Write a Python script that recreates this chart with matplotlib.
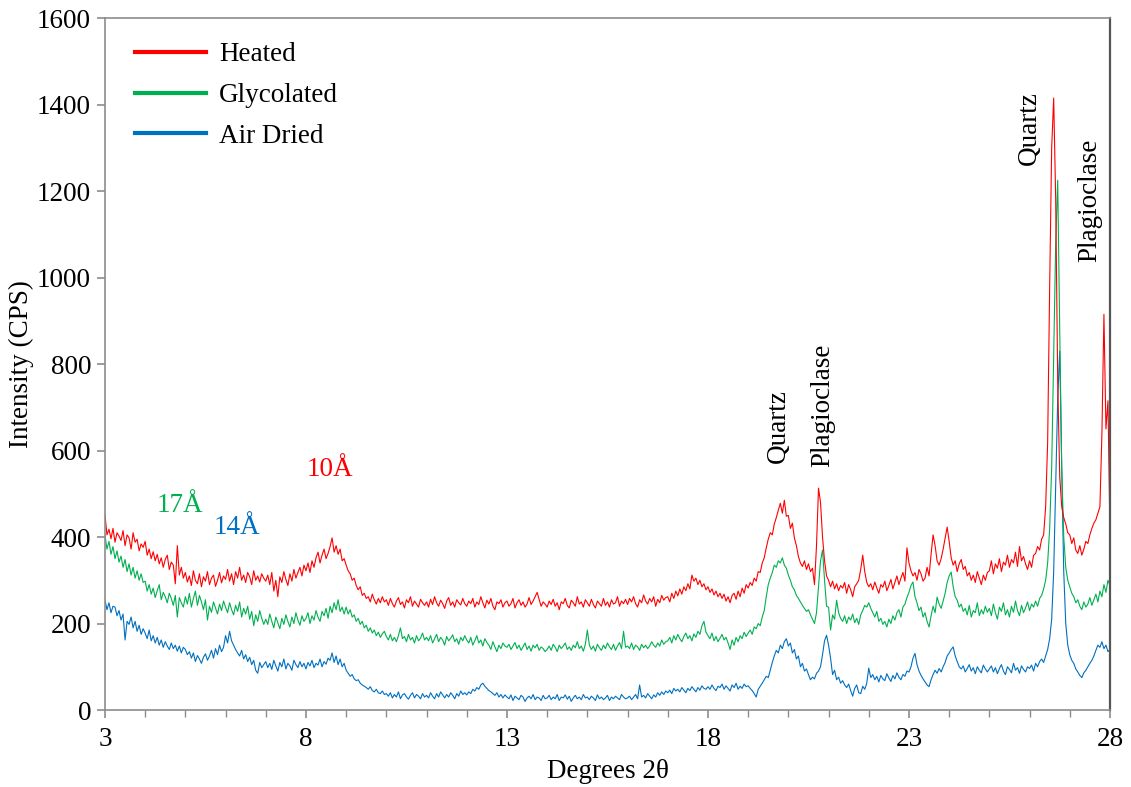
import numpy as np
import matplotlib
matplotlib.use("Agg")
import matplotlib.pyplot as plt
from matplotlib.ticker import MultipleLocator

# 2-theta scan grid (degrees), 0.05 step
two_theta_start, two_theta_stop, two_theta_step = 3.0, 28.0, 0.05

# intensities (CPS), one line per degree of 2-theta
heated_cps = [
    452, 405, 418, 396, 420, 388, 410, 402, 392, 415, 380, 405, 398, 372, 410, 388, 395, 368, 384, 376,
    390, 358, 372, 350, 366, 345, 360, 338, 352, 330, 348, 358, 325, 342, 335, 292, 380, 312, 330, 305,
    318, 296, 310, 288, 322, 300, 292, 315, 285, 308, 298, 320, 290, 305, 312, 286, 300, 318, 294, 310,
    302, 325, 298, 315, 290, 320, 305, 330, 300, 312, 295, 318, 308, 290, 322, 300, 310, 296, 315, 305,
    298, 312, 290, 318, 275, 300, 262, 308, 295, 320, 302, 288, 315, 298, 325, 305, 318, 330, 310, 335,
    322, 340, 318, 345, 330, 352, 365, 340, 358, 372, 350, 362, 378, 398, 365, 380, 360, 372, 345, 350,
    335, 322, 315, 300, 305, 288, 278, 285, 265, 270, 258, 262, 250, 268, 255, 245, 258, 248, 262, 250,
    255, 242, 258, 246, 238, 252, 260, 244, 250, 236, 255, 248, 262, 240, 252, 245, 238, 256, 248, 242,
    250, 238, 256, 244, 262, 248, 240, 254, 246, 235, 252, 260, 242, 250, 238, 255, 248, 243, 258, 246,
    240, 252, 246, 258, 238, 250, 244, 262, 248, 236, 254, 245, 258, 240, 232, 250, 246, 255, 238, 248,
    252, 240, 246, 258, 236, 248, 255, 242, 250, 238, 245, 260, 244, 252, 262, 272, 256, 240, 250, 245,
    238, 252, 244, 256, 240, 248, 232, 250, 246, 258, 242, 236, 254, 248, 240, 262, 245, 250, 238, 255,
    248, 240, 256, 244, 236, 252, 246, 240, 258, 242, 250, 238, 255, 245, 248, 262, 240, 252, 246, 256,
    244, 258, 250, 262, 246, 238, 255, 248, 266, 252, 245, 258, 250, 262, 240, 256, 248, 265, 254, 260,
    262, 250, 270, 258, 275, 264, 280, 268, 285, 276, 292, 280, 312, 298, 305, 290, 300, 285, 292, 278,
    285, 272, 280, 266, 275, 262, 270, 258, 268, 252, 262, 248, 265, 270, 256, 275, 262, 282, 270, 290,
    282, 295, 288, 305, 298, 320, 318, 340, 352, 375, 395, 410, 405, 430, 445, 462, 478, 455, 485, 448,
    450, 420, 432, 398, 380, 355, 340, 332, 345, 325, 338, 320, 328, 290, 380, 513, 480, 400, 345, 310,
    300, 285, 298, 280, 292, 276, 288, 282, 295, 270, 290, 278, 262, 285, 292, 300, 325, 358, 320, 295,
    285, 292, 278, 296, 282, 270, 290, 284, 298, 276, 288, 302, 280, 295, 310, 290, 305, 318, 298, 375,
    340, 322, 310, 318, 300, 325, 315, 298, 305, 330, 310, 360, 405, 380, 345, 335, 350, 372, 398, 423,
    390, 352, 335, 345, 320, 338, 348, 325, 332, 310, 318, 300, 312, 295, 320, 305, 290, 312, 300, 318,
    322, 345, 315, 338, 328, 350, 320, 342, 335, 358, 330, 348, 340, 365, 332, 378, 345, 355, 338, 325,
    345, 330, 358, 362, 378, 370, 395, 405, 470, 620, 980, 1300, 1415, 1180, 760, 540, 470, 445, 430, 410,
    405, 385, 398, 370, 362, 380, 358, 372, 390, 385, 405, 420, 432, 440, 455, 470, 640, 915, 650, 715,
    410,
]

glycolated_cps = [
    405, 372, 390, 360, 378, 350, 368, 342, 356, 330, 348, 320, 338, 312, 330, 305, 322, 300, 315, 295,
    298, 275, 290, 268, 282, 260, 276, 290, 255, 272, 262, 248, 270, 258, 242, 265, 215, 260, 248, 238,
    262, 245, 270, 238, 258, 275, 242, 265, 250, 232, 255, 208, 240, 226, 250, 236, 222, 245, 230, 252,
    238, 225, 248, 232, 220, 242, 228, 250, 215, 235, 222, 240, 210, 228, 195, 220, 205, 230, 212, 198,
    210, 198, 222, 205, 190, 215, 202, 188, 212, 198, 220, 205, 192, 215, 200, 225, 208, 196, 218, 205,
    212, 225, 200, 218, 208, 230, 215, 205, 228, 218, 235, 212, 240, 225, 248, 232, 255, 228, 238, 222,
    238, 222, 232, 215, 220, 205, 212, 198, 205, 190, 196, 182, 190, 178, 185, 172, 180, 168, 176, 182,
    170, 162, 175, 160, 168, 158, 172, 190, 165, 170, 158, 175, 162, 168, 155, 172, 160, 166, 178, 162,
    168, 160, 172, 155, 165, 175, 158, 168, 162, 150, 170, 160, 166, 174, 158, 165, 152, 168, 160, 172,
    162, 155, 168, 150, 160, 172, 155, 162, 148, 165, 156, 150, 140, 158, 146, 135, 150, 142, 155, 148,
    145, 152, 140, 148, 156, 142, 150, 138, 146, 155, 140, 148, 136, 150, 144, 152, 138, 146, 142, 135,
    140, 148, 138, 152, 145, 135, 150, 142, 148, 155, 140, 146, 138, 150, 144, 158, 142, 148, 136, 152,
    185, 150, 140, 148, 136, 152, 144, 138, 150, 142, 155, 146, 140, 152, 138, 148, 156, 142, 182, 145,
    148, 142, 155, 140, 150, 146, 138, 152, 144, 150, 142, 148, 158, 150, 145, 155, 148, 162, 152, 158,
    160, 168, 155, 172, 162, 175, 165, 158, 170, 178, 165, 172, 160, 176, 168, 182, 175, 195, 205, 180,
    172, 165, 178, 160, 170, 158, 166, 175, 162, 168, 155, 140, 162, 150, 168, 158, 172, 165, 180, 170,
    178, 185, 175, 192, 188, 200, 195, 215, 230, 262, 290, 305, 318, 335, 330, 345, 340, 352, 335, 328,
    312, 300, 285, 278, 265, 258, 250, 242, 235, 228, 232, 220, 210, 200, 225, 285, 345, 370, 300, 240,
    238, 185, 220, 210, 254, 225, 212, 205, 218, 200, 215, 208, 222, 202, 212, 198, 220, 230, 242, 238,
    248, 235, 225, 215, 228, 205, 212, 198, 205, 192, 210, 200, 218, 208, 225, 232, 215, 238, 245, 260,
    272, 288, 296, 262, 248, 230, 238, 215, 225, 205, 192, 218, 240, 225, 261, 245, 235, 252, 270, 295,
    310, 319, 285, 262, 254, 238, 245, 228, 235, 220, 242, 215, 230, 225, 248, 218, 232, 222, 240, 226,
    235, 218, 245, 225, 210, 238, 228, 248, 220, 232, 215, 240, 226, 252, 230, 218, 242, 225, 236, 250,
    230, 245, 238, 252, 240, 258, 265, 280, 300, 340, 420, 560, 820, 1080, 1225, 880, 560, 400, 330, 300,
    285, 270, 262, 248, 255, 240, 232, 250, 238, 245, 260, 242, 255, 268, 250, 275, 262, 290, 272, 300,
    288,
]

air_dried_cps = [
    255, 232, 248, 225, 240, 238, 218, 230, 208, 222, 162, 205, 198, 215, 190, 205, 182, 196, 175, 188,
    178, 165, 185, 160, 172, 155, 168, 150, 162, 145, 158, 148, 140, 155, 142, 150, 136, 148, 132, 145,
    140, 128, 135, 120, 132, 112, 126, 118, 108, 122, 130, 115, 125, 138, 120, 142, 128, 150, 135, 145,
    172, 155, 182, 160, 150, 140, 132, 125, 138, 118, 128, 112, 122, 105, 115, 92, 85, 110, 98, 105,
    112, 98, 108, 94, 115, 102, 90, 110, 100, 118, 95, 108, 102, 92, 115, 105, 98, 112, 100, 108,
    95, 110, 102, 115, 98, 108, 104, 118, 100, 112, 106, 120, 115, 132, 110, 125, 105, 118, 100, 108,
    92, 85, 78, 82, 72, 68, 70, 62, 58, 55, 52, 48, 54, 45, 42, 48, 40, 38, 44, 36,
    38, 32, 40, 28, 36, 30, 42, 26, 35, 38, 30, 25, 34, 40, 28, 36, 32, 26, 38, 30,
    34, 28, 40, 32, 26, 38, 30, 42, 35, 28, 36, 30, 40, 34, 26, 38, 32, 44, 36, 40,
    35, 42, 38, 48, 44, 52, 48, 58, 62, 55, 50, 45, 42, 38, 34, 40, 30, 36, 28, 35,
    30, 26, 35, 22, 32, 28, 24, 34, 30, 20, 28, 32, 26, 36, 24, 30, 28, 22, 34, 26,
    28, 34, 24, 30, 26, 36, 22, 30, 28, 35, 25, 32, 20, 28, 34, 26, 30, 24, 36, 28,
    30, 24, 32, 28, 22, 35, 26, 30, 24, 28, 34, 22, 30, 26, 32, 28, 24, 36, 30, 26,
    28, 32, 24, 30, 36, 26, 58, 30, 34, 28, 38, 32, 26, 35, 30, 40, 34, 42, 36, 44,
    40, 46, 38, 50, 44, 48, 42, 52, 46, 40, 50, 45, 54, 48, 42, 52, 46, 56, 50, 48,
    54, 48, 58, 50, 45, 55, 52, 60, 48, 56, 50, 44, 58, 52, 62, 48, 55, 50, 60, 54,
    56, 50, 45, 38, 30, 48, 55, 62, 70, 78, 75, 92, 110, 125, 138, 132, 150, 142, 158, 165,
    148, 155, 132, 140, 118, 125, 100, 108, 90, 95, 82, 70, 76, 72, 85, 90, 100, 128, 160, 173,
    150, 120, 82, 92, 70, 76, 62, 68, 58, 52, 60, 45, 32, 50, 58, 40, 38, 55, 48, 62,
    97, 75, 82, 70, 78, 65, 80, 72, 68, 84, 74, 66, 80, 72, 86, 76, 70, 82, 78, 90,
    88, 100, 120, 131, 105, 90, 80, 72, 65, 58, 54, 70, 82, 92, 85, 96, 88, 100, 110, 125,
    132, 140, 146, 125, 112, 100, 95, 102, 88, 96, 105, 90, 98, 84, 100, 92, 86, 104, 95, 88,
    95, 102, 88, 98, 84, 96, 105, 90, 82, 100, 94, 86, 108, 92, 98, 85, 102, 94, 88, 100,
    96, 104, 90, 108, 100, 112, 118, 110, 125, 140, 165, 210, 320, 520, 720, 830, 560, 320, 200, 150,
    128, 115, 108, 95, 88, 80, 75, 86, 92, 100, 108, 115, 125, 138, 150, 145, 158, 142, 150, 135,
    140,
]

series_labels = ["Heated", "Glycolated", "Air Dried"]
series_colors = ["#FF0000", "#00B050", "#0070C0"]
x_ticks = [3, 8, 13, 18, 23, 28]

# peak labels: (text, 2-theta, CPS at text base, colour, rotated)
peak_labels = [
    ("10Å", 8.6, 555, "#FF0000", False),
    ("17Å", 4.87, 472, "#00B050", False),
    ("14Å", 6.28, 421, "#0070C0", False),
    ("Quartz", 19.75, 571, "black", True),
    ("Plagioclase", 20.86, 562, "black", True),
    ("Quartz", 26.0, 1260, "black", True),
    ("Plagioclase", 27.5, 1036, "black", True),
]

fs = 19.5
plt.rcParams["font.family"] = ["Liberation Serif", "DejaVu Serif"]
plt.rcParams["font.size"] = fs

two_theta = np.round(np.arange(two_theta_start, two_theta_stop + two_theta_step / 2,
                               two_theta_step), 2)

fig = plt.figure(figsize=(11.31, 7.87), dpi=100)
ax = fig.add_axes([0.0928, 0.0978, 0.8886, 0.8793])

axis_grey = "#8c8c8c"
data = [heated_cps, glycolated_cps, air_dried_cps]
for cps, lab, col in reversed(list(zip(data, series_labels, series_colors))):
    ax.plot(two_theta, cps, color=col, lw=0.8, label=lab)

ax.set_xlim(3, 28)
ax.set_ylim(0, 1600)
ax.set_xticks(x_ticks)
ax.xaxis.set_minor_locator(MultipleLocator(1))
ax.yaxis.set_major_locator(MultipleLocator(200))
ax.tick_params(which="both", direction="out", color=axis_grey, labelsize=fs)
ax.tick_params(which="major", length=6, width=1.2)
ax.tick_params(which="minor", length=5, width=1.0)
ax.tick_params(axis="x", pad=6)
ax.tick_params(axis="y", pad=4)
for side in ["left", "bottom", "top", "right"]:
    ax.spines[side].set_color(axis_grey)
    ax.spines[side].set_linewidth(1.2)
ax.spines["right"].set_color("#555555")
ax.spines["right"].set_linewidth(1.6)

ax.set_xlabel("Degrees 2θ", fontsize=fs, labelpad=5)
ax.set_ylabel("Intensity (CPS)", fontsize=fs, labelpad=2)

for text, xv, yv, col, rotated in peak_labels:
    if rotated:
        ax.text(xv, yv, text, color=col, rotation=90, ha="center", va="bottom", fontsize=fs)
    else:
        ax.text(xv, yv, text, color=col, ha="center", va="center", fontsize=fs)

leg_handles = [plt.Line2D([], [], color=c, lw=3) for c in series_colors]
ax.legend(leg_handles, series_labels, loc="upper left", bbox_to_anchor=(0.006, 1.0),
          frameon=False, handlelength=2.6, handletextpad=0.5, labelspacing=0.58, fontsize=fs)

fig.savefig("out.png", dpi=100)
